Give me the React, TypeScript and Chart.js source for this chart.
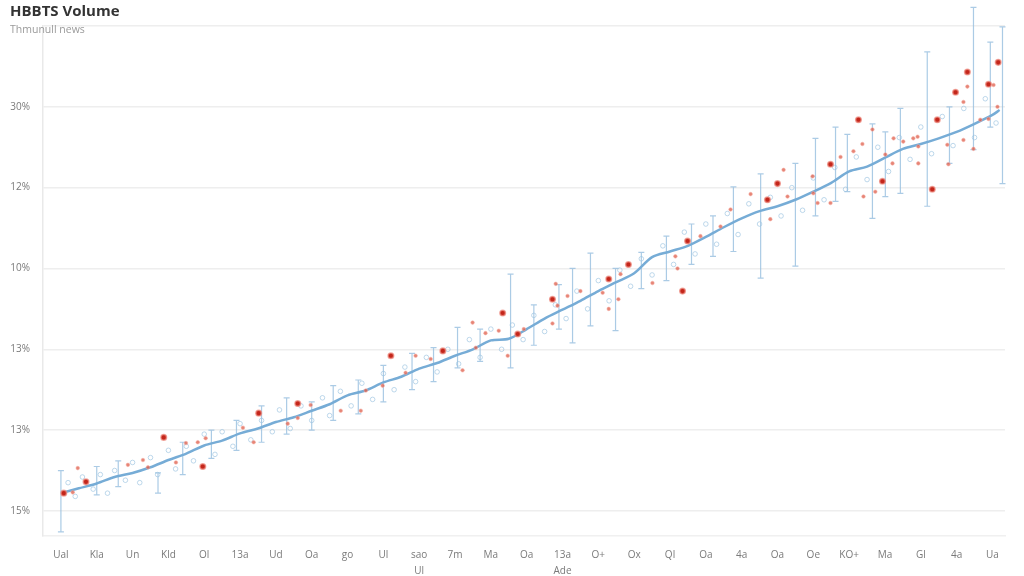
import React, { useEffect, useRef } from "react";
import { Chart, registerables } from "chart.js";

Chart.register(...registerables);

const TITLE = "HBBTS Volume";
const SUBTITLE = "Thmunull news";

const xTickLabels: (string | string[])[] = [
  "Ual", "Kla", "Un", "Kld", "Ol", "13a", "Ud", "Oa", "go", "Ul", ["sao", "Ul"], "7m", "Ma",
  "Oa", ["13a", "Ade"], "O+", "Ox", "Ql", "Oa", "4a", "Oa", "Oe", "KO+", "Ma", "Gl", "4a", "Ua",
];
const xTickValues = [0, 1, 2, 3, 4, 5, 6, 7, 8, 9, 10, 11, 12, 13, 14, 15, 16, 17, 18, 19, 20, 21, 22, 23, 24, 25, 26];

const yTickLabels = ["15%", "13%", "13%", "10%", "12%", "30%", ""];
const yTickValues = [0, 1, 2, 3, 4, 5, 6];

// trend line
const trendX = [0, 0.5, 1, 1.5, 2, 2.5, 3, 3.5, 4, 4.5, 5, 5.5, 6, 6.5, 7, 7.5, 8, 8.5, 9, 9.5, 10, 10.5, 11, 11.5, 12, 12.5, 13, 13.5, 14, 14.5, 15, 15.5, 16, 16.5, 17, 17.5, 18, 18.5, 19, 19.5, 20, 20.5, 21, 21.5, 22, 22.5, 23, 23.5, 24, 24.5, 25, 25.5, 26, 26.2];
const trendY = [0.22, 0.28, 0.34, 0.42, 0.47, 0.54, 0.63, 0.71, 0.81, 0.87, 0.96, 1.02, 1.1, 1.16, 1.24, 1.32, 1.43, 1.49, 1.59, 1.66, 1.76, 1.83, 1.92, 2.0, 2.11, 2.13, 2.25, 2.38, 2.49, 2.6, 2.72, 2.83, 2.94, 3.14, 3.21, 3.28, 3.39, 3.51, 3.62, 3.71, 3.77, 3.85, 3.95, 4.06, 4.2, 4.26, 4.37, 4.48, 4.54, 4.61, 4.69, 4.79, 4.9, 4.96];

// large red observations
const redBigX = [0.08, 0.7, 2.87, 3.96, 5.52, 6.61, 9.21, 10.66, 12.33, 12.75, 13.72, 15.29, 15.84, 17.49, 17.35, 20.0, 21.48, 22.26, 22.93, 24.46, 24.97, 25.3, 25.89, 26.16, 24.32, 19.72];
const redBigY = [0.22, 0.36, 0.91, 0.55, 1.21, 1.33, 1.92, 1.98, 2.45, 2.19, 2.62, 2.87, 3.05, 3.34, 2.72, 4.05, 4.29, 4.84, 4.08, 4.84, 5.18, 5.43, 5.28, 5.55, 3.98, 3.85];

// small red observations
const redSmallX = [0.33, 0.47, 1.87, 2.29, 2.43, 3.49, 3.82, 3.21, 4.04, 5.08, 5.38, 6.61, 6.97, 6.33, 8.51, 9.9, 8.37, 10.32, 11.21, 11.58, 11.49, 11.85, 12.22, 12.47, 12.92, 13.72, 13.86, 13.81, 14.14, 14.5, 15.12, 15.29, 15.56, 15.62, 16.51, 17.15, 17.21, 18.69, 19.25, 19.8, 20.17, 20.28, 20.98, 21.0, 21.12, 21.48, 21.76, 22.12, 22.37, 22.4, 22.65, 22.73, 23.01, 23.21, 23.24, 23.51, 23.79, 23.91, 23.93, 23.93, 24.74, 24.77, 25.19, 25.19, 25.3, 25.47, 25.66, 25.89, 26.03, 26.14, 17.85, 18.41, 7.81, 8.98, 9.62];
const redSmallY = [0.23, 0.53, 0.57, 0.63, 0.54, 0.84, 0.85, 0.6, 0.9, 1.03, 0.85, 1.15, 1.31, 1.08, 1.49, 1.92, 1.24, 1.88, 1.74, 2.02, 2.33, 2.2, 2.23, 1.92, 2.25, 2.32, 2.54, 2.81, 2.66, 2.72, 2.7, 2.5, 2.62, 2.93, 2.82, 3.15, 3.0, 3.73, 3.92, 3.61, 4.22, 3.89, 4.14, 3.93, 3.81, 3.81, 4.38, 4.45, 4.54, 3.89, 4.72, 3.95, 4.41, 4.3, 4.61, 4.57, 4.61, 4.63, 4.51, 4.3, 4.53, 4.29, 5.06, 4.59, 5.25, 4.48, 4.84, 4.85, 5.27, 5.0, 3.4, 3.52, 1.24, 1.55, 1.71];

// light blue observations
const blueX = [0.2, 0.4, 0.6, 0.9, 1.1, 1.3, 1.5, 1.8, 2.0, 2.2, 2.5, 2.7, 3.0, 3.2, 3.5, 3.7, 4.0, 4.3, 4.5, 4.8, 5.0, 5.3, 5.6, 5.9, 6.1, 6.4, 6.7, 7.0, 7.3, 7.5, 7.8, 8.1, 8.4, 8.7, 9.0, 9.3, 9.6, 9.9, 10.2, 10.5, 10.8, 11.1, 11.4, 11.7, 12.0, 12.3, 12.6, 12.9, 13.2, 13.5, 13.8, 14.1, 14.4, 14.7, 15.0, 15.3, 15.6, 15.9, 16.2, 16.5, 16.8, 17.1, 17.4, 17.7, 18.0, 18.3, 18.6, 18.9, 19.2, 19.5, 19.8, 20.1, 20.4, 20.7, 21.0, 21.3, 21.6, 21.9, 22.2, 22.5, 22.8, 23.1, 23.4, 23.7, 24.0, 24.3, 24.6, 24.9, 25.2, 25.5, 25.8, 26.1];
const blueY = [0.35, 0.18, 0.42, 0.27, 0.45, 0.22, 0.5, 0.38, 0.6, 0.35, 0.66, 0.45, 0.75, 0.52, 0.8, 0.62, 0.95, 0.7, 0.98, 0.8, 1.08, 0.88, 1.12, 0.98, 1.25, 1.02, 1.3, 1.12, 1.4, 1.18, 1.48, 1.3, 1.58, 1.38, 1.7, 1.5, 1.78, 1.6, 1.9, 1.72, 2.0, 1.82, 2.12, 1.9, 2.25, 2.0, 2.3, 2.12, 2.42, 2.22, 2.55, 2.38, 2.72, 2.5, 2.85, 2.6, 2.98, 2.78, 3.12, 2.92, 3.28, 3.05, 3.45, 3.18, 3.55, 3.3, 3.68, 3.42, 3.8, 3.55, 3.88, 3.65, 4.0, 3.72, 4.12, 3.85, 4.25, 3.98, 4.38, 4.1, 4.5, 4.2, 4.62, 4.35, 4.75, 4.42, 4.88, 4.52, 4.98, 4.62, 5.1, 4.8];

// error bars
const errX = [0, 1.0, 1.6, 2.71, 3.4, 4.2, 4.9, 5.6, 6.3, 7.0, 7.6, 8.3, 9.0, 9.8, 10.4, 11.07, 11.7, 12.55, 13.2, 13.9, 14.28, 14.78, 15.48, 16.2, 16.9, 17.6, 18.2, 18.77, 19.53, 20.5, 21.06, 21.62, 21.95, 22.65, 23.01, 23.43, 24.18, 24.8, 25.47, 25.94, 26.28];
const errLow = [-0.26, 0.2, 0.3, 0.22, 0.45, 0.65, 0.75, 0.85, 0.95, 1.0, 1.12, 1.2, 1.35, 1.5, 1.6, 1.77, 1.85, 1.77, 2.05, 2.25, 2.08, 2.29, 2.23, 2.75, 2.85, 3.05, 3.15, 3.21, 2.88, 3.03, 3.65, 3.83, 3.95, 3.62, 3.89, 3.93, 3.77, 4.3, 4.47, 4.75, 4.05];
const errHigh = [0.5, 0.55, 0.62, 0.47, 0.85, 1.0, 1.12, 1.3, 1.4, 1.35, 1.55, 1.62, 1.8, 1.95, 2.02, 2.27, 2.25, 2.93, 2.55, 2.8, 3.0, 3.19, 3.0, 3.2, 3.4, 3.55, 3.65, 4.01, 4.17, 4.3, 4.61, 4.75, 4.66, 4.79, 4.69, 4.98, 5.68, 5.0, 6.23, 5.8, 5.99];

const pts = (xs: number[], ys: number[]) => xs.map((x, i) => ({ x, y: ys[i] }));

const errorBarPlugin = {
  id: "errorBars",
  beforeDatasetsDraw(chart: any) {
    const { ctx, scales } = chart;
    const xs = scales.x;
    const ys = scales.y;
    ctx.save();
    ctx.strokeStyle = "rgba(150,190,222,0.8)";
    ctx.lineWidth = 1.2;
    errX.forEach((u, i) => {
      const px = xs.getPixelForValue(u);
      const p1 = ys.getPixelForValue(errLow[i]);
      const p2 = ys.getPixelForValue(errHigh[i]);
      ctx.beginPath();
      ctx.moveTo(px, p1);
      ctx.lineTo(px, p2);
      ctx.moveTo(px - 3, p1);
      ctx.lineTo(px + 3, p1);
      ctx.moveTo(px - 3, p2);
      ctx.lineTo(px + 3, p2);
      ctx.stroke();
    });
    ctx.restore();
  },
};

export default function App() {
  const ref = useRef<HTMLCanvasElement | null>(null);

  useEffect(() => {
    if (!ref.current) return;
    const chart = new Chart(ref.current, {
      type: "scatter",
      data: {
        datasets: [
          {
            label: "Observed (major)",
            data: pts(redBigX, redBigY),
            backgroundColor: "#c3261b",
            borderColor: "rgba(238,140,128,0.7)",
            borderWidth: 1.5,
            pointRadius: 2.8,
            order: 0,
          },
          {
            label: "Observed",
            data: pts(redSmallX, redSmallY),
            backgroundColor: "rgba(222,92,72,0.75)",
            borderColor: "rgba(245,170,160,0.5)",
            borderWidth: 1,
            pointRadius: 1.8,
            order: 1,
          },
          {
            type: "line",
            label: "Trend",
            data: pts(trendX, trendY),
            borderColor: "rgb(118,172,214)",
            borderWidth: 2.5,
            pointRadius: 0,
            tension: 0.3,
            fill: false,
            order: 2,
          } as any,
          {
            label: "Samples",
            data: pts(blueX, blueY),
            backgroundColor: "rgba(255,255,255,0)",
            borderColor: "rgba(155,195,224,0.65)",
            borderWidth: 1,
            pointRadius: 2.3,
            order: 3,
          },
        ],
      },
      options: {
        animation: false,
        responsive: true,
        maintainAspectRatio: false,
        layout: { padding: { top: 26, right: 19, left: 0, bottom: 0 } },
        plugins: {
          legend: { display: false },
          tooltip: { enabled: false },
          title: { display: false },
        },
        scales: {
          x: {
            type: "linear",
            min: -0.5,
            max: 26.35,
            afterBuildTicks: (scale: any) => {
              scale.ticks = xTickValues.map((v) => ({ value: v }));
            },
            afterFit: (scale: any) => {
              scale.height = 40;
            },
            ticks: {
              autoSkip: false,
              maxRotation: 0,
              minRotation: 0,
              padding: 11,
              color: "#7a7a7a",
              font: { family: "Open Sans", size: 10, lineHeight: 1.6 },
              callback: (v: any) => {
                const i = xTickValues.indexOf(Number(v));
                return i >= 0 ? (xTickLabels[i] as any) : "";
              },
            },
            grid: { display: false, drawTicks: false },
            border: { display: true, color: "#f0f0f0", width: 1.5 },
          },
          y: {
            type: "linear",
            min: -0.31,
            max: 6,
            afterBuildTicks: (scale: any) => {
              scale.ticks = yTickValues.map((v) => ({ value: v }));
            },
            afterFit: (scale: any) => {
              scale.width = 43;
            },
            ticks: {
              padding: 13,
              color: "#7a7a7a",
              font: { family: "Open Sans", size: 10 },
              callback: (v: any) => {
                const i = yTickValues.indexOf(Number(v));
                return i >= 0 ? yTickLabels[i] : "";
              },
            },
            grid: { color: "#eeeeee", lineWidth: 1.5, drawTicks: false },
            border: { display: true, color: "#e9e9e9", width: 1.5 },
          },
        },
      },
      plugins: [errorBarPlugin],
    });
    return () => chart.destroy();
  }, []);

  return (
    <div style={{ position: "fixed", left: 0, top: 0, width: 1024, height: 576, background: "#fff" }}>
      <canvas ref={ref} />
      <div
        style={{
          position: "absolute",
          left: 10,
          top: 0,
          fontFamily: "'Open Sans', sans-serif",
          fontWeight: 700,
          fontSize: 15,
          color: "#333",
          lineHeight: "20px",
        }}
      >
        {TITLE}
      </div>
      <div
        style={{
          position: "absolute",
          left: 10,
          top: 22,
          fontFamily: "'Open Sans', sans-serif",
          fontSize: 10.5,
          color: "#9a9a9a",
          lineHeight: "14px",
        }}
      >
        {SUBTITLE}
      </div>
    </div>
  );
}
